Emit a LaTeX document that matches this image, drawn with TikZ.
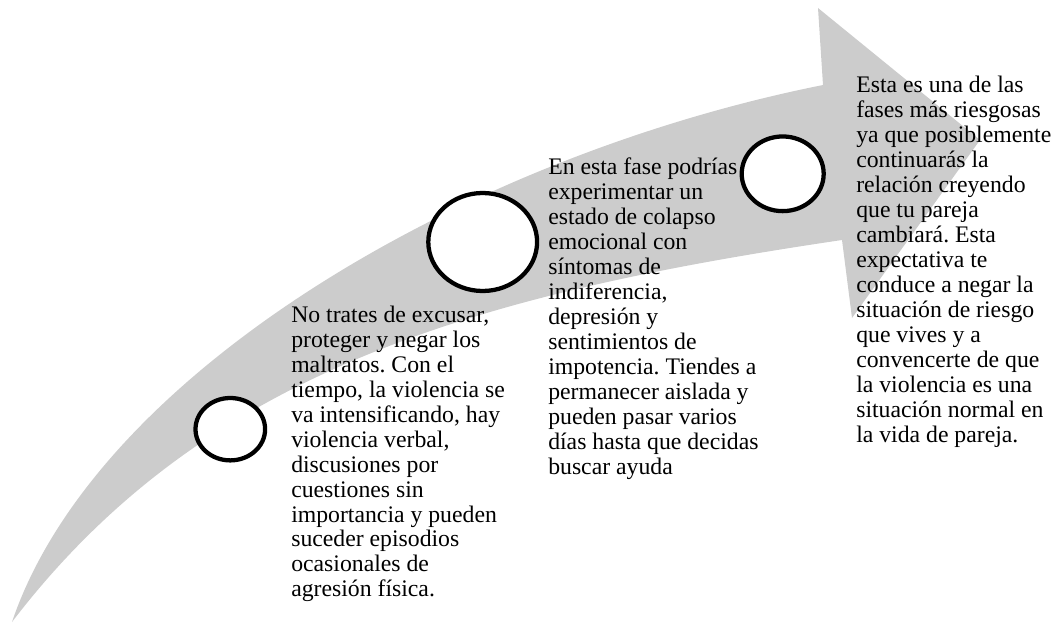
\documentclass[tikz,border=0pt]{standalone}
\usepackage{fontspec}
\setmainfont{Liberation Serif}
\usetikzlibrary{shapes.geometric}
\definecolor{arrowgray}{RGB}{204,204,204}
\newcommand\mylines[1]{\vtop{\frenchspacing\baselineskip=18.75pt\lineskiplimit=-\maxdimen\halign{##\hfil\cr#1\crcr}}}
\begin{document}
\begin{tikzpicture}[x=0.75pt,y=-0.75pt,
  ring/.style={ellipse, draw=black, fill=white, line width=3.2pt, inner sep=0pt},
  txt/.style={anchor=base west, inner sep=0pt, font=\fontsize{17.8pt}{18.75pt}\selectfont}]
\useasboundingbox (0,0) rectangle (1054,624);
\fill[arrowgray] (12,622) .. controls (96,374) and (463,157) .. (823,85)
  -- (818,8) -- (980,140) -- (852,318) -- (842,240)
  .. controls (477,294) and (204.5,370) .. (12,622) -- cycle;
\node[txt] (t1) at (291,322) {\mylines{No trates de excusar,\cr
proteger y negar los\cr
maltratos. Con el\cr
tiempo, la violencia se\cr
va intensificando, hay\cr
violencia verbal,\cr
discusiones por\cr
cuestiones sin\cr
importancia y pueden\cr
suceder episodios\cr
ocasionales de\cr
agresión física.}};
\node[txt] (t2) at (548,175) {\mylines{En esta fase podrías\cr
experimentar un\cr
estado de colapso\cr
emocional con\cr
síntomas de\cr
indiferencia,\cr
depresión y\cr
sentimientos de\cr
impotencia. Tiendes a\cr
permanecer aislada y\cr
pueden pasar varios\cr
días hasta que decidas\cr
buscar ayuda}};
\node[txt] (t3) at (856,93) {\mylines{Esta es una de las\cr
fases más riesgosas\cr
ya que posiblemente\cr
continuarás la\cr
relación creyendo\cr
que tu pareja\cr
cambiará. Esta\cr
expectativa te\cr
conduce a negar la\cr
situación de riesgo\cr
que vives y a\cr
convencerte de que\cr
la violencia es una\cr
situación normal en\cr
la vida de pareja.}};
\node[ring, minimum width=52.2pt, minimum height=46.8pt] (c1) at (230.3,429.2) {};
\node[ring, minimum width=81.6pt, minimum height=73.5pt] (c2) at (482.7,242) {};
\node[ring, minimum width=61.5pt, minimum height=56pt] (c3) at (782.7,173.8) {};
\end{tikzpicture}
\end{document}
